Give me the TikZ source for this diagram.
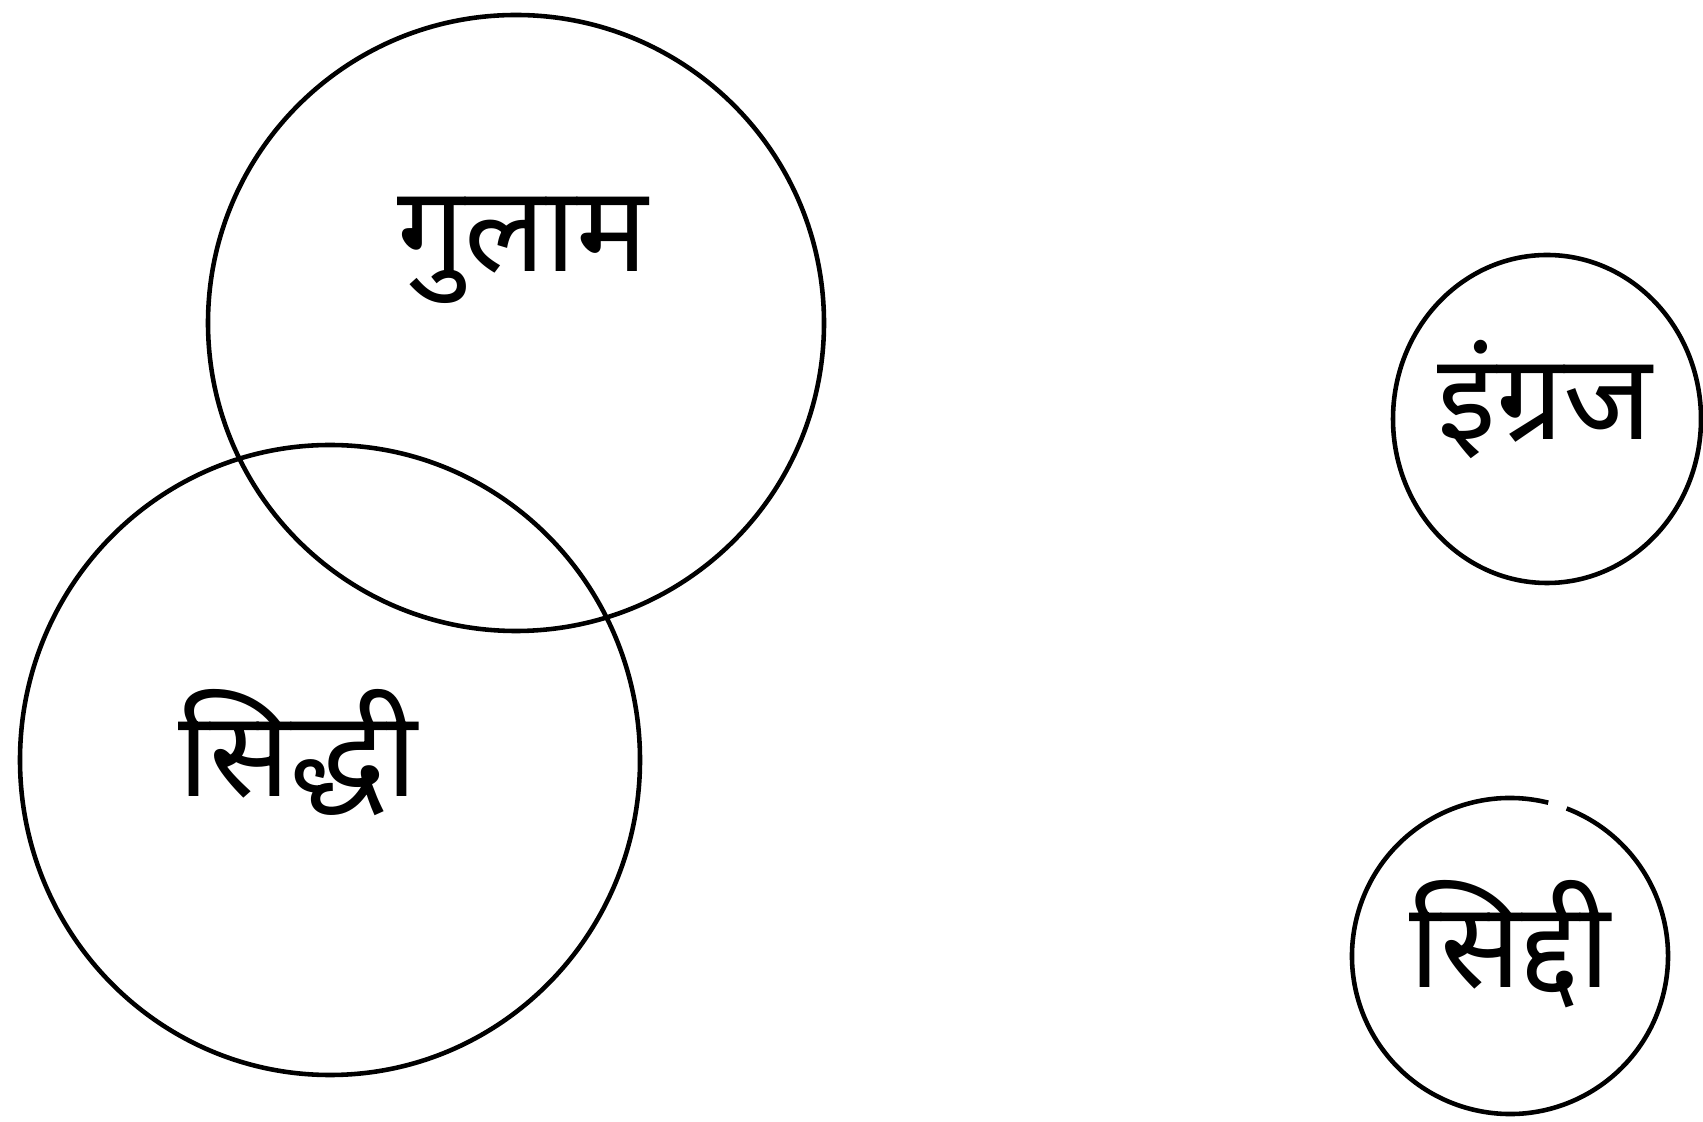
\documentclass[tikz,border=0pt]{standalone}
\usepackage{fontspec}
\usepackage{tikz}
\usetikzlibrary{positioning}
\newfontfamily\devfont[Script=Devanagari]{Noto Sans}

\begin{document}
\begin{tikzpicture}[
    x=0.01cm, y=0.01cm,
    ring/.style={draw, line width=1.3pt},
    word/.style={font=\devfont\fontsize{34}{40}\selectfont, inner sep=0pt},
]
    \useasboundingbox (0,0) rectangle (1703,1121);
    % Overlapping pair
    \draw[ring] (516,798) circle[radius=308];
    \draw[ring] (330,361) circle[x radius=310, y radius=315];
    \node[word] (gulam) at (523,871) {गुलाम};
    \node[word] (siddhi) at (298,368) {सिद्धी};
    % Separate pair
    \draw[ring] (1547,702) circle[x radius=154, y radius=164];
    \draw[ring] (1510,165) ++(76:158) arc[start angle=76, end angle=429, radius=158];
    \node[word] (ingraj) at (1545,721) {इंग्रज};
    \node[word] (siddi) at (1510,177) {सिद्दी};
\end{tikzpicture}
\end{document}
